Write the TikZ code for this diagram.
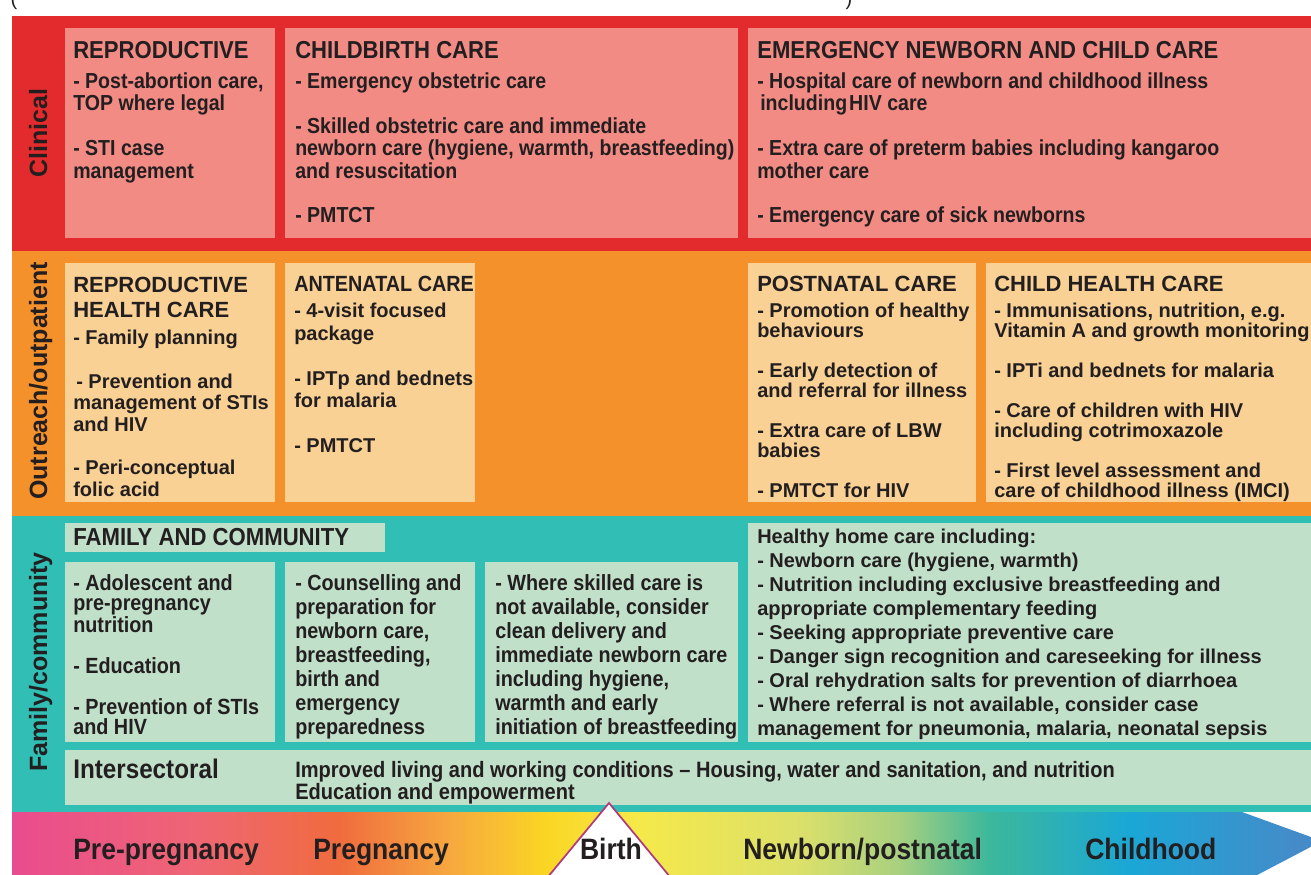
\documentclass[tikz,border=0pt]{standalone}
\usepackage{fontspec}
\setmainfont{Liberation Sans}
\newfontfamily\narrowsans{Liberation Sans}[FakeStretch=0.9]
\newcommand\pxf[2]{\fontsize{#1pt}{#2pt}\selectfont}

\definecolor{ink}{HTML}{231F20}
\definecolor{redband}{HTML}{E32A2C}
\definecolor{salmon}{HTML}{F28B84}
\definecolor{orangeband}{HTML}{F4912A}
\definecolor{peach}{HTML}{FAD194}
\definecolor{tealband}{HTML}{30BEB5}
\definecolor{mint}{HTML}{C1E0C9}
\definecolor{birthline}{HTML}{B03A7E}
% colour stops of the life-course bar
\definecolor{g0}{HTML}{E94C8E}
\definecolor{g1}{HTML}{EF6673}
\definecolor{g2}{HTML}{F06B3E}
\definecolor{g3}{HTML}{F7A83F}
\definecolor{g4}{HTML}{FAD624}
\definecolor{g5}{HTML}{F5E94A}
\definecolor{g6}{HTML}{DCE06A}
\definecolor{g7}{HTML}{A8D080}
\definecolor{g8}{HTML}{3DB89A}
\definecolor{g9}{HTML}{1AA7D6}
\definecolor{g10}{HTML}{4D86C6}

\begin{document}
\begin{tikzpicture}[x=0.75pt, y=-0.75pt,
  txt/.style={anchor=north west, inner sep=0pt, align=left, text=ink},
  hd/.style={anchor=base west, inner sep=0pt, text=ink},
  side/.style={rotate=90, anchor=base, inner sep=0pt, text=ink, font=\bfseries\pxf{18.75}{20}},
  phase/.style={anchor=base west, inner sep=0pt, text=ink, font=\narrowsans\bfseries\pxf{22.1}{24}},
  clinfont/.style={font=\narrowsans\bfseries\pxf{16.3}{16.8}},
  clinhead/.style={hd, font=\narrowsans\bfseries\pxf{18.4}{20}},
  ophead/.style={hd, font=\bfseries\pxf{16.5}{18}},
]
\useasboundingbox (0,0) rectangle (1311,875);

% level bands
\fill[redband] (12,16) rectangle (1311,251);
\fill[orangeband] (12,251) rectangle (1311,516);
\fill[tealband] (12,516) rectangle (1311,812);

% clinical boxes
\fill[salmon] (65,28) rectangle (275,238);
\fill[salmon] (285,28) rectangle (738,238);
\fill[salmon] (748,28) rectangle (1311,238);

% outreach boxes
\fill[peach] (65,263) rectangle (275,502);
\fill[peach] (285,263) rectangle (475,502);
\fill[peach] (748,263) rectangle (976,502);
\fill[peach] (986,263) rectangle (1311,502);

% family / community boxes
\fill[mint] (65,523) rectangle (385,552);
\fill[mint] (65,562) rectangle (275,742);
\fill[mint] (285,562) rectangle (475,742);
\fill[mint] (485,562) rectangle (738,742);
\fill[mint] (748,523) rectangle (1311,742);
\fill[mint] (65,750) rectangle (1311,805);

% life-course arrow with colour gradient
\begin{scope}
  \clip (12,812) -- (1242,812) -- (1322,841) -- (1240,884) -- (12,884) -- cycle;
  \shade[left color=g0, right color=g1] (12,812) rectangle (200,884);
  \shade[left color=g1, right color=g2] (199.5,812) rectangle (339,884);
  \shade[left color=g2, right color=g3] (338.5,812) rectangle (450,884);
  \shade[left color=g3, right color=g4] (449.5,812) rectangle (547,884);
  \shade[left color=g4, right color=g5] (546.5,812) rectangle (640,884);
  \shade[left color=g5, right color=g6] (639.5,812) rectangle (800,884);
  \shade[left color=g6, right color=g7] (799.5,812) rectangle (900,884);
  \shade[left color=g7, right color=g8] (899.5,812) rectangle (988,884);
  \shade[left color=g8, right color=g9] (987.5,812) rectangle (1130,884);
  \shade[left color=g9, right color=g10] (1129.5,812) rectangle (1330,884);
\end{scope}

% birth marker
\draw[birthline, line width=1.3pt, fill=white, line join=miter]
  (609,803) -- (533,895) -- (685,895) -- cycle;

% cut caption brackets at the top edge
\node[anchor=base, inner sep=0pt, text=ink, font=\pxf{15}{16}] (lp) at (14,5) {(};
\node[anchor=base, inner sep=0pt, text=ink, font=\pxf{15}{16}] (rp) at (849,5) {)};

% side labels
\node[side] (sClin) at (47,133) {Clinical};
\node[side] (sOut) at (47,381) {Outreach/outpatient};
\node[side] (sFam) at (47,662) {Family/community};

% clinical row
\node[clinhead] (hRep) at (73,58.6) {REPRODUCTIVE};
\node[clinhead] (hBirthCare) at (295,58.6) {CHILDBIRTH CARE};
\node[clinhead] (hEmerg) at (757,58.6) {EMERGENCY NEWBORN AND CHILD CARE};

\node[txt, clinfont] (clinA) at (73,66.5)
  {\rule{0pt}{16.3pt}- Post-abortion care,\\TOP where legal\\[16.8pt]- STI case\\management};
\node[txt, clinfont] (clinB) at (295,66.5)
  {\rule{0pt}{16.3pt}- Emergency obstetric care\\[16.8pt]- Skilled obstetric care and immediate\\newborn care (hygiene, warmth, breastfeeding)\\and resuscitation\\[16.8pt]- PMTCT};
\node[txt, clinfont] (clinC) at (757,66.5)
  {\rule{0pt}{16.3pt}- Hospital care of newborn and childhood illness\\\hspace{2.25pt}including\hspace{1.5pt}HIV care\\[16.8pt]- Extra care of preterm babies including kangaroo\\mother care\\[16.8pt]- Emergency care of sick newborns};

% outreach / outpatient row
\node[txt, font=\bfseries\pxf{16.5}{18.75}] (hRHC) at (73,269.9)
  {\rule{0pt}{16.5pt}REPRODUCTIVE\\HEALTH CARE};
\node[ophead, font=\narrowsans\bfseries\pxf{16.5}{18}] (hANC) at (294,291.9) {ANTENATAL CARE};
\node[ophead] (hPNC) at (757,291.9) {POSTNATAL CARE};
\node[ophead] (hCHC) at (994,291.9) {CHILD HEALTH CARE};

\node[txt, font=\bfseries\pxf{15}{16.2}] (opA) at (73,324.6)
  {\rule{0pt}{15pt}- Family planning\\[16.2pt]\hspace{2.25pt}- Prevention and\\management of STIs\\and HIV\\[16.2pt]- Peri-conceptual\\folic acid};
\node[txt, font=\bfseries\pxf{15}{16.875}] (opB) at (294,297.6)
  {\rule{0pt}{15pt}- 4-visit focused\\package\\[16.875pt]- IPTp and bednets\\for malaria\\[16.875pt]- PMTCT};
\node[txt, font=\bfseries\pxf{15}{15}] (opC) at (757,297.6)
  {\rule{0pt}{15pt}- Promotion of healthy\\behaviours\\[15pt]- Early detection of\\and referral for illness\\[15pt]- Extra care of LBW\\babies\\[15pt]- PMTCT for HIV};
\node[txt, font=\bfseries\pxf{15}{15}] (opD) at (994,297.6)
  {\rule{0pt}{15pt}- Immunisations, nutrition, e.g.\\Vitamin A and growth monitoring\\[15pt]- IPTi and bednets for malaria\\[15pt]- Care of children with HIV\\including cotrimoxazole\\[15pt]- First level assessment and\\care of childhood illness (IMCI)};

% family / community row
\node[hd, font=\narrowsans\bfseries\pxf{18.45}{20}] (hFam) at (73,545.6) {FAMILY AND COMMUNITY};
\node[txt, font=\narrowsans\bfseries\pxf{16.5}{15.3}] (fcA) at (73,568.3)
  {\rule{0pt}{16.5pt}- Adolescent and\\pre-pregnancy\\nutrition\\[15.3pt]- Education\\[15.3pt]- Prevention of STIs\\and HIV};
\node[txt, font=\narrowsans\bfseries\pxf{16.5}{18}] (fcB) at (295,568.3)
  {\rule{0pt}{16.5pt}- Counselling and\\preparation for\\newborn care,\\breastfeeding,\\birth and\\emergency\\preparedness};
\node[txt, font=\narrowsans\bfseries\pxf{16.5}{18}] (fcC) at (495,568.3)
  {\rule{0pt}{16.5pt}- Where skilled care is\\not available, consider\\clean delivery and\\immediate newborn care\\including hygiene,\\warmth and early\\initiation of breastfeeding};
\node[txt, font=\bfseries\pxf{15}{18}] (fcD) at (757,523.6)
  {\rule{0pt}{15pt}Healthy home care including:\\- Newborn care (hygiene, warmth)\\- Nutrition including exclusive breastfeeding and\\appropriate complementary feeding\\- Seeking appropriate preventive care\\- Danger sign recognition and careseeking for illness\\- Oral rehydration salts for prevention of diarrhoea\\- Where referral is not available, consider case\\management for pneumonia, malaria, neonatal sepsis};

\node[hd, font=\narrowsans\bfseries\pxf{20.2}{22}] (hInter) at (73,778.6) {Intersectoral};
\node[txt, font=\narrowsans\bfseries\pxf{16.7}{16.5}] (inter) at (295,754.5)
  {\rule{0pt}{16.7pt}Improved living and working conditions – Housing, water and sanitation, and nutrition\\Education and empowerment};

% life-course phases
\node[phase] (pPre) at (73,859) {Pre-pregnancy};
\node[phase] (pPreg) at (313,859) {Pregnancy};
\node[phase, anchor=base] (pBirth) at (611,859) {Birth};
\node[phase] (pNew) at (743,859) {Newborn/postnatal};
\node[phase] (pChild) at (1085,859) {Childhood};
\end{tikzpicture}
\end{document}
